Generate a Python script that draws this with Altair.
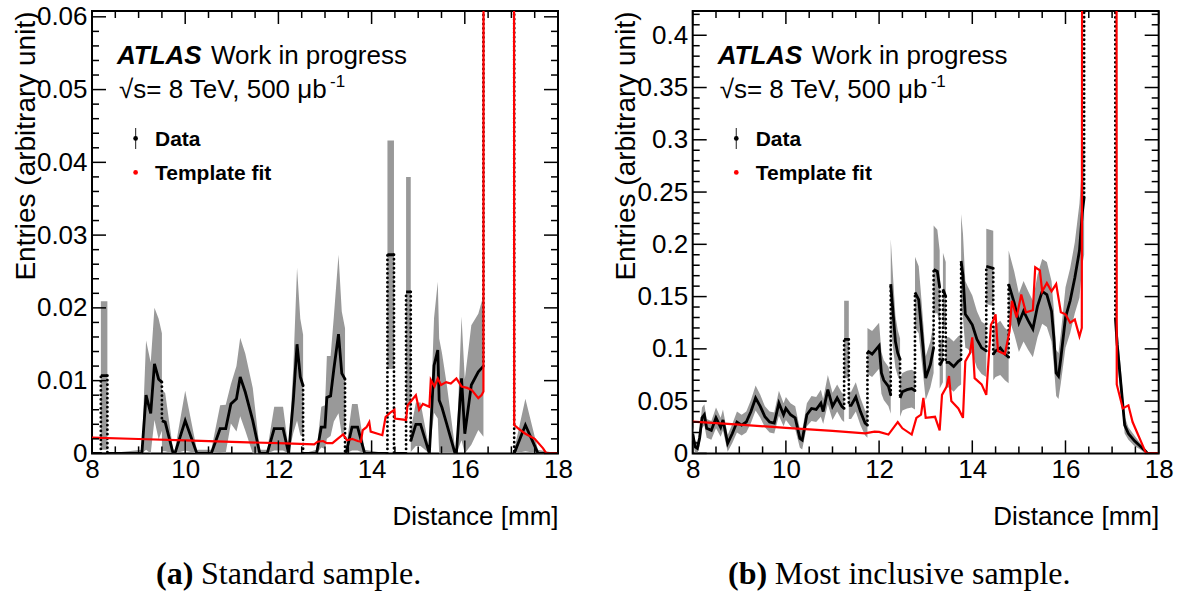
import altair as alt
import pandas as pd

# ---------------- panel (a): standard sample ----------------
# repeated x value = vertical (dotted) jump between two line pieces
A_X = [8.0, 8.19,
       8.19, 8.33,
       8.33, 9.07, 9.16, 9.26, 9.34, 9.43, 9.50,
       9.50, 9.57, 9.74, 9.78, 10.0, 10.25, 10.56, 10.75, 10.87, 10.98, 11.10, 11.18, 11.29, 11.45,
       11.60, 11.76, 11.91, 12.10, 12.22, 12.32, 12.40, 12.47, 12.53,
       12.53, 12.82, 12.92, 13.00, 13.04, 13.12, 13.19, 13.29, 13.36, 13.43,
       13.43, 13.45, 13.58, 13.70, 13.85, 14.34,
       14.34, 14.48,
       14.48, 14.74,
       14.74, 14.84,
       14.84, 14.95, 15.05, 15.24, 15.34, 15.42, 15.45, 15.51, 15.61, 15.79, 15.82, 15.93, 16.00,
       16.14, 16.29, 16.40,
       16.40, 17.06,
       17.06, 17.30, 17.57, 18.0]
A_Y = [0, 0,
       0.0107, 0.0107,
       0, 0, 0.0080, 0.0055, 0.0123, 0.0102, 0.0098,
       0.0045, 0.0043, 0, 0, 0.0045, 0, 0, 0.0034, 0.0034, 0.0068, 0.0075, 0.0105, 0.0084, 0.0045,
       0, 0, 0.0034, 0.0034, 0, 0.0073, 0.0150, 0.0105, 0.0093,
       0, 0, 0.0036, 0.0036, 0.0077, 0.0079, 0.0116, 0.0164, 0.0110, 0.0102,
       0, 0, 0.0036, 0.0036, 0, 0,
       0.0273, 0.0273,
       0, 0,
       0.0222, 0.0222,
       0.0017, 0.0040, 0.0040, 0, 0.0121, 0.0142, 0.0073, 0.0063, 0.0041, 0, 0, 0.0103, 0.0027,
       0.0094, 0.0112, 0.0120,
       0.5, 0.5,
       0, 0.0039, 0, 0]
A_ERR = [0, 0,
         0.0102, 0.0102,
         0, 0.0005, 0.0075, 0.0070, 0.0077, 0.0083, 0.0067,
         0.0042, 0.0040, 0.0005, 0.0005, 0.0041, 0.0005, 0.0005, 0.0032, 0.0033, 0.0027, 0.0045, 0.0054, 0.0053, 0.0045,
         0.0005, 0.0005, 0.0030, 0.0030, 0.0005, 0.0045, 0.0105, 0.0080, 0.0070,
         0, 0.0005, 0.0028, 0.0030, 0.0057, 0.0055, 0.0072, 0.0109, 0.0085, 0.0070,
         0, 0.0005, 0.0032, 0.0032, 0.0005, 0,
         0.0157, 0.0157,
         0, 0,
         0.0158, 0.0158,
         0.0015, 0.0030, 0.0030, 0.0005, 0.0065, 0.0094, 0.0085, 0.0075, 0.0055, 0.0008, 0.0005, 0.0085, 0.0075,
         0.0082, 0.0080, 0.0097,
         0.1, 0.1,
         0.0005, 0.0036, 0.0005, 0]
A_FIT_X = [8.0, 9.0, 10.0, 11.0, 12.0, 12.77, 12.84, 12.96, 13.04, 13.16, 13.27, 13.39, 13.47, 13.58,
           13.70, 13.77, 13.81, 13.89, 13.95, 13.98, 14.23, 14.30, 14.40, 14.49, 14.50, 14.74, 14.77,
           14.85, 14.95, 15.02, 15.10, 15.24, 15.27, 15.35, 15.42, 15.49, 15.60, 15.70, 15.82, 15.93,
           16.05, 16.15, 16.29, 16.36, 16.40, 16.42, 17.03, 17.06, 17.15, 17.30, 17.50, 17.68, 17.75, 18.0]
A_FIT_Y = [0.00218, 0.00198, 0.00178, 0.00158, 0.00140, 0.00123, 0.0016, 0.0017, 0.0014, 0.0014, 0.0020,
           0.0026, 0.0018, 0.0020, 0.0017, 0.0016, 0.0032, 0.0036, 0.0043, 0.0030, 0.0025, 0.0050, 0.0056,
           0.0060, 0.0048, 0.0046, 0.0066, 0.0072, 0.0080, 0.0060, 0.0068, 0.0064, 0.0101, 0.0092, 0.0103,
           0.0094, 0.0098, 0.0096, 0.0103, 0.0092, 0.0090, 0.0087, 0.0076, 0.0080, 0.0085, 0.5, 0.5,
           0.0039, 0.0034, 0.0027, 0.0020, 0.0007, 0, 0]
A_YMAX = 0.0608
A_YT_MAJOR = [0, 0.01, 0.02, 0.03, 0.04, 0.05, 0.06]
A_YT_MINOR = [0.002, 0.004, 0.006, 0.008, 0.012, 0.014, 0.016, 0.018, 0.022, 0.024, 0.026, 0.028,
              0.032, 0.034, 0.036, 0.038, 0.042, 0.044, 0.046, 0.048, 0.052, 0.054, 0.056, 0.058]

# ---------------- panel (b): most inclusive sample ----------------
B_X = [8.0, 8.05, 8.1, 8.15, 8.2, 8.25, 8.3, 8.4, 8.5, 8.6, 8.65, 8.75, 8.85, 8.95, 9.05, 9.15, 9.25,
       9.35, 9.45, 9.55, 9.65, 9.75, 9.85, 9.95, 10.0, 10.1, 10.2, 10.3, 10.35, 10.45, 10.55, 10.65,
       10.75, 10.8, 10.9, 11.0, 11.1, 11.2, 11.25,
       11.25, 11.35,
       11.35, 11.4, 11.5, 11.6, 11.7, 11.75,
       11.75, 11.85, 12.0, 12.05, 12.1, 12.2, 12.25,
       12.25, 12.35, 12.4, 12.45,
       12.45, 12.5, 12.6, 12.7, 12.77,
       12.77, 12.85, 12.9, 12.95, 13.0, 13.1, 13.17,
       13.17, 13.25, 13.3,
       13.3, 13.37,
       13.37, 13.43,
       13.43, 13.5, 13.6, 13.7, 13.76,
       13.76, 13.8, 13.85, 13.9, 14.0, 14.1, 14.2, 14.3,
       14.3, 14.45,
       14.45, 14.5, 14.6, 14.7, 14.78,
       14.78, 14.9, 15.0, 15.1, 15.2, 15.3, 15.4, 15.5, 15.6, 15.7, 15.75, 15.8, 15.85, 15.9, 16.0,
       16.1, 16.2, 16.3, 16.36, 16.4,
       16.4, 17.07,
       17.07, 17.11, 17.19, 17.27, 17.35, 17.48, 17.6, 17.72, 17.76, 18.0]
B_Y = [0.019, 0.0064, 0.0048, 0.015, 0.034, 0.037, 0.024, 0.022, 0.034, 0.025, 0.032, 0.0096, 0.019,
       0.030, 0.027, 0.030, 0.040, 0.053, 0.045, 0.035, 0.030, 0.029, 0.048, 0.037, 0.043, 0.037, 0.034,
       0.0144, 0.0128, 0.037, 0.043, 0.042, 0.048, 0.040, 0.061, 0.045, 0.053, 0.045, 0.043,
       0.109, 0.109,
       0.046, 0.046, 0.054, 0.040, 0.029, 0.027,
       0.098, 0.095, 0.103, 0.077, 0.070, 0.064, 0.056,
       0.162, 0.107, 0.096, 0.090,
       0.053, 0.059, 0.061, 0.062, 0.060,
       0.154, 0.147, 0.123, 0.098, 0.072, 0.085, 0.101,
       0.176, 0.174, 0.159,
       0.084, 0.090,
       0.157, 0.150,
       0.087, 0.087, 0.083, 0.088, 0.090,
       0.184, 0.170, 0.133, 0.130, 0.123, 0.109, 0.101, 0.098,
       0.179, 0.177,
       0.095, 0.098, 0.101, 0.095, 0.092,
       0.162, 0.144, 0.125, 0.136, 0.127, 0.119, 0.141, 0.155, 0.152, 0.136, 0.111, 0.077, 0.074, 0.091,
       0.130, 0.146, 0.168, 0.194, 0.230, 0.245,
       3.0, 3.0,
       0.130, 0.104, 0.066, 0.027, 0.019, 0.012, 0.007, 0.002, 0, 0]
B_ERR = [0.008, 0.006, 0.006, 0.008, 0.010, 0.010, 0.009, 0.009, 0.010, 0.009, 0.010, 0.008, 0.009,
         0.010, 0.010, 0.010, 0.011, 0.012, 0.011, 0.010, 0.010, 0.010, 0.012, 0.011, 0.011, 0.011, 0.011,
         0.009, 0.009, 0.011, 0.012, 0.012, 0.013, 0.012, 0.014, 0.013, 0.013, 0.013, 0.013,
         0.037, 0.037,
         0.013, 0.013, 0.014, 0.013, 0.012, 0.012,
         0.022, 0.022, 0.022, 0.020, 0.019, 0.019, 0.018,
         0.043, 0.025, 0.022, 0.020,
         0.018, 0.018, 0.018, 0.018, 0.018,
         0.034, 0.032, 0.029, 0.025, 0.021, 0.022, 0.024,
         0.042, 0.040, 0.035,
         0.022, 0.022,
         0.035, 0.033,
         0.024, 0.024, 0.024, 0.024, 0.024,
         0.045, 0.040, 0.032, 0.030, 0.028, 0.027, 0.025, 0.025,
         0.036, 0.036,
         0.025, 0.025, 0.026, 0.025, 0.025,
         0.032, 0.030, 0.028, 0.029, 0.028, 0.027, 0.030, 0.031, 0.031, 0.029, 0.027, 0.022, 0.022, 0.024,
         0.029, 0.031, 0.034, 0.045, 0.050, 0.055,
         0.5, 0.5,
         0.020, 0.017, 0.013, 0.008, 0.006, 0.005, 0.003, 0.002, 0, 0]
B_FIT_X = [8.0, 9.0, 10.0, 11.0, 11.7, 11.9, 12.0, 12.2, 12.4, 12.5, 12.7, 12.8, 12.9, 12.95, 13.0, 13.2,
           13.3, 13.35, 13.45, 13.5, 13.55, 13.7, 13.8, 13.85, 13.95, 14.0, 14.05, 14.2, 14.3, 14.35, 14.4,
           14.45, 14.5, 14.55, 14.7, 14.8, 14.85, 14.95, 15.05, 15.15, 15.3, 15.35, 15.45, 15.5, 15.6,
           15.7, 15.8, 15.9, 16.0, 16.1, 16.2, 16.3, 16.35, 16.4, 17.07, 17.1, 17.23, 17.35, 17.44,
           17.73, 18.0]
B_FIT_Y = [0.0304, 0.0275, 0.0245, 0.0215, 0.0192, 0.0208, 0.0205, 0.018, 0.030, 0.024, 0.018, 0.034,
           0.037, 0.053, 0.034, 0.035, 0.022, 0.056, 0.064, 0.074, 0.050, 0.043, 0.034, 0.088, 0.096,
           0.111, 0.072, 0.066, 0.056, 0.090, 0.123, 0.127, 0.133, 0.098, 0.095, 0.117, 0.146, 0.130,
           0.152, 0.135, 0.137, 0.178, 0.175, 0.155, 0.163, 0.155, 0.162, 0.135, 0.133, 0.125, 0.128,
           0.112, 0.120, 3.0, 3.0, 0.066, 0.043, 0.046, 0.030, 0, 0]
B_YMAX = 0.4232
B_YT_MAJOR = [0, 0.05, 0.1, 0.15, 0.2, 0.25, 0.3, 0.35, 0.4]
B_YT_MINOR = [0.01, 0.02, 0.03, 0.04, 0.06, 0.07, 0.08, 0.09, 0.11, 0.12, 0.13, 0.14, 0.16, 0.17, 0.18,
              0.19, 0.21, 0.22, 0.23, 0.24, 0.26, 0.27, 0.28, 0.29, 0.31, 0.32, 0.33, 0.34, 0.36, 0.37,
              0.38, 0.39, 0.41, 0.42]

X_MAJOR = [8, 10, 12, 14, 16, 18]
X_MINOR = [8.5, 9, 9.5, 10.5, 11, 11.5, 12.5, 13, 13.5, 14.5, 15, 15.5, 16.5, 17, 17.5]

ATLAS_BOLD = "ATLAS"
ATLAS_REST = "Work in progress"
ENERGY = "\u221as= 8 TeV, 500 \u03bcb"
ENERGY_SUP = "-1"
LEG_DATA = "Data"
LEG_FIT = "Template fit"
X_TITLE = "Distance [mm]"
Y_TITLE = "Entries (arbitrary unit)"

W, H = 466, 442.4
SANS = "Liberation Sans"
SERIF = "Liberation Serif"
ONE = pd.DataFrame({"a": [0]})


def text_layer(txt, x, y, size, weight="normal", style="normal", font=SANS, align="left"):
    return alt.Chart(ONE).mark_text(
        text=txt, font=font, fontSize=size, fontWeight=weight, fontStyle=style,
        align=align, baseline="alphabetic", color="black"
    ).encode(x=alt.value(x), y=alt.value(y))


def panel(xs, ys, errs, fx, fy, ymax, yt_major, yt_minor, cap_bold, cap_text, cap_x, cap_x2, anchor):
    df = pd.DataFrame({"x": xs, "y": ys, "err": errs})
    df["i"] = range(len(df))
    jump = df["x"].diff() == 0
    df["seg"] = jump.cumsum()
    df["lo"] = (df["y"] - df["err"]).clip(lower=0)
    df["hi"] = df["y"] + df["err"]
    prev = df.shift(1)
    jumps = pd.DataFrame({"x": df.loc[jump, "x"], "y": prev.loc[jump, "y"], "y2": df.loc[jump, "y"]})
    fdf = pd.DataFrame({"x": fx, "y": fy})
    fdf["i"] = range(len(fdf))

    xscale = alt.Scale(domain=[8, 18], nice=False, zero=False)
    yscale = alt.Scale(domain=[0, ymax], nice=False, zero=False)
    xaxis = alt.Axis(values=X_MAJOR, format="d", title=X_TITLE, titleX=W, titleY=71.3,
                     titleAlign="right", titleBaseline="alphabetic", titleFontSize=26,
                     titleFontWeight="normal", labelFontSize=26, labelPadding=3, ticks=False,
                     tickSize=0, domain=False, grid=False, labelFlush=False, labelOverlap=False)
    yaxis = alt.Axis(values=yt_major, format="~g", title=Y_TITLE, titleAngle=270, titleX=-58,
                     titleY=0, titleAlign="right", titleBaseline="alphabetic", titleFontSize=28,
                     titleFontWeight="normal", labelFontSize=26, labelPadding=5, ticks=False,
                     tickSize=0, domain=False, grid=False, labelFlush=False, labelOverlap=False)
    X = alt.X("x:Q", scale=xscale, axis=xaxis)

    def Y(f):
        return alt.Y(f, type="quantitative", scale=yscale, axis=yaxis, stack=None)

    band = alt.Chart(df).mark_area(color="#999999", clip=True).encode(
        x=X, y=Y("hi"), y2=alt.Y2("lo"))
    line = alt.Chart(df).mark_line(color="black", strokeWidth=2.8, clip=True).encode(
        x=X, y=Y("y"), detail="seg:N", order="i:Q")
    dots = alt.Chart(jumps).mark_rule(color="black", strokeWidth=2.8, strokeDash=[0.1, 4.4],
                                      strokeCap="round", clip=True).encode(
        x=X, y=Y("y"), y2=alt.Y2("y2"))
    fit = alt.Chart(fdf).mark_line(color="#ff0000", strokeWidth=2.2, clip=True).encode(
        x=X, y=Y("y"), order="i:Q")

    ticks = []
    for vals, ln in ((X_MAJOR, 13), (X_MINOR, 7)):
        tdf = pd.DataFrame({"x": vals})
        ticks.append(alt.Chart(tdf).mark_rule(color="black", strokeWidth=1.5).encode(
            x=X, y=alt.value(H), y2=alt.value(H - ln)))
        ticks.append(alt.Chart(tdf).mark_rule(color="black", strokeWidth=1.5).encode(
            x=X, y=alt.value(0), y2=alt.value(ln)))
    for vals, ln in ((yt_major, 14), (yt_minor, 7)):
        tdf = pd.DataFrame({"y": vals})
        ticks.append(alt.Chart(tdf).mark_rule(color="black", strokeWidth=1.5).encode(
            y=Y("y"), x=alt.value(0), x2=alt.value(ln)))
        ticks.append(alt.Chart(tdf).mark_rule(color="black", strokeWidth=1.5).encode(
            y=Y("y"), x=alt.value(W), x2=alt.value(W - ln)))

    texts = [
        text_layer(ATLAS_BOLD, 25, 53, 26, weight="bold", style="italic"),
        text_layer(ATLAS_REST, 119, 53, 26),
        text_layer(ENERGY, 27, 87.4, 26),
        text_layer(ENERGY_SUP, 238, 76.5, 17),
        text_layer(LEG_DATA, 63, 134.7, 21, weight="bold"),
        text_layer(LEG_FIT, 63, 168.7, 21, weight="bold"),
        text_layer(cap_bold, cap_x, 572.7, 32, weight="bold", font=SERIF),
        text_layer(cap_text, cap_x2, 572.7, 32, font=SERIF),
    ]
    legend = [
        alt.Chart(ONE).mark_rule(color="#444444", strokeWidth=1.2).encode(
            x=alt.value(43.6), y=alt.value(117), y2=alt.value(138)),
        alt.Chart(ONE).mark_point(filled=True, size=22, color="black", opacity=1).encode(
            x=alt.value(43.6), y=alt.value(127.4)),
        alt.Chart(ONE).mark_point(filled=True, size=22, color="#ff0000", opacity=1).encode(
            x=alt.value(43.6), y=alt.value(161.4)),
    ]
    layers = [band, line, dots, fit] + ticks + texts + legend
    if anchor:
        layers.append(alt.Chart(ONE).mark_rule(opacity=0, strokeWidth=1).encode(
            x=alt.value(-91), x2=alt.value(-90), y=alt.value(-9.3), y2=alt.value(-8)))
    return alt.layer(*layers).properties(width=W, height=H)


left = panel(A_X, A_Y, A_ERR, A_FIT_X, A_FIT_Y, A_YMAX, A_YT_MAJOR, A_YT_MINOR,
             "(a)", "Standard sample.", 64, 109, True)
right = panel(B_X, B_Y, B_ERR, B_FIT_X, B_FIT_Y, B_YMAX, B_YT_MAJOR, B_YT_MINOR,
              "(b)", "Most inclusive sample.", 35.3, 82, False)

chart = alt.hconcat(left, right, spacing=134.7, bounds="flush").properties(
    padding=0, background="white"
).configure_view(stroke="black", strokeWidth=2).configure_axis(
    labelFont=SANS, titleFont=SANS, labelColor="black", titleColor="black"
)

chart.save("out.html", embed_options={"renderer": "svg", "actions": False})
